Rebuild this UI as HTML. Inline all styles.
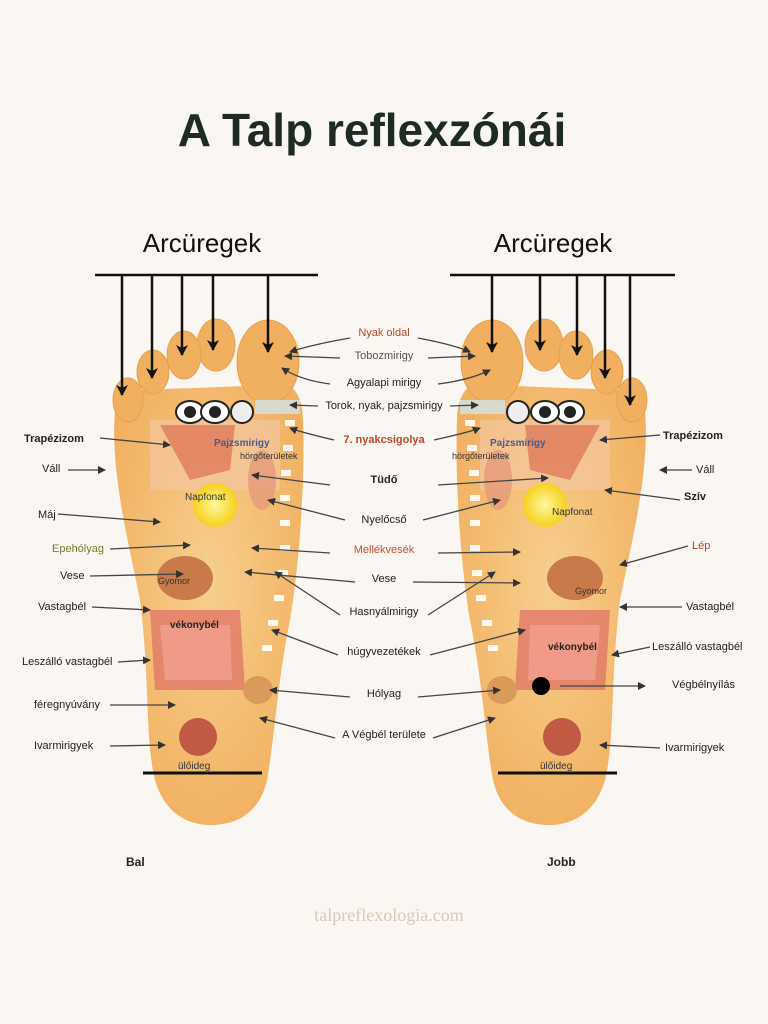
<!DOCTYPE html>
<html><head><meta charset="utf-8"><style>
html,body{margin:0;padding:0;background:#faf6f1;}
svg{display:block}
text{font-family:"Liberation Sans",sans-serif;}
</style></head><body>
<svg width="768" height="1024" viewBox="0 0 768 1024" xmlns="http://www.w3.org/2000/svg">
<defs>
<marker id="a" markerWidth="8" markerHeight="8" refX="7" refY="4" orient="auto" markerUnits="userSpaceOnUse"><path d="M0,0 L8,4 L0,8 z" fill="#333"/></marker>
<marker id="ab" markerWidth="12" markerHeight="12" refX="10" refY="6" orient="auto" markerUnits="userSpaceOnUse"><path d="M0,0 L11,6 L0,12 L3,6 z" fill="#111"/></marker>
<radialGradient id="g" cx="50%" cy="45%" r="60%"><stop offset="0" stop-color="#f7cf8e"/><stop offset="1" stop-color="#f1b060"/></radialGradient>
<radialGradient id="sun" cx="50%" cy="50%" r="50%"><stop offset="0" stop-color="#fff6a0"/><stop offset="1" stop-color="#f6d21a"/></radialGradient>
<g id="foot">
<path d="M115,410 C110,470 128,540 140,600 C150,680 145,740 155,780 C165,815 190,825 210,825 C240,825 262,810 268,775 C275,730 278,680 290,620 C300,560 305,480 303,420 C302,390 290,380 270,385 L140,390 C122,392 116,400 115,410 Z" fill="url(#g)"/>
<ellipse cx="268" cy="362" rx="31" ry="42" fill="#f1b060" stroke="#e9a04d" stroke-width="1"/>
<ellipse cx="216" cy="345" rx="19" ry="26" fill="#f1b060" stroke="#e9a04d" stroke-width="1"/>
<ellipse cx="184" cy="355" rx="17" ry="24" fill="#f1b060" stroke="#e9a04d" stroke-width="1"/>
<ellipse cx="153" cy="372" rx="16" ry="22" fill="#f1b060" stroke="#e9a04d" stroke-width="1"/>
<ellipse cx="128" cy="400" rx="15" ry="22" fill="#f1b060" stroke="#e9a04d" stroke-width="1"/>
<rect x="150" y="420" width="130" height="70" fill="#f4c6a0" opacity="0.7"/>
<path d="M160,425 L235,425 L230,470 L190,480 Z" fill="#e07b5a" opacity="0.8"/>
<ellipse cx="190" cy="412" rx="14" ry="11" fill="#fff" stroke="#222" stroke-width="2"/>
<circle cx="190" cy="412" r="6" fill="#222"/>
<ellipse cx="215" cy="412" rx="14" ry="11" fill="#fff" stroke="#222" stroke-width="2"/>
<circle cx="215" cy="412" r="6" fill="#222"/>
<circle cx="242" cy="412" r="11" fill="#eee" stroke="#222" stroke-width="2"/>
<rect x="255" y="400" width="45" height="14" fill="#cfe3ea" opacity="0.8"/>
<ellipse cx="262" cy="480" rx="14" ry="30" fill="#e59a7a" opacity="0.8"/>
<circle cx="215" cy="505" r="22" fill="url(#sun)"/>
<ellipse cx="185" cy="578" rx="28" ry="22" fill="#c97a4a"/>
<path d="M150,610 L240,610 L245,690 L155,690 Z" fill="#e27c6a" opacity="0.85"/>
<path d="M160,625 L230,625 L232,680 L165,680 Z" fill="#f09a88"/>
<ellipse cx="258" cy="690" rx="15" ry="14" fill="#d99a5a"/>
<circle cx="198" cy="737" r="19" fill="#c05a45"/>
<line x1="143" y1="773" x2="262" y2="773" stroke="#111" stroke-width="3"/>
<g fill="#fff" opacity="0.9">
<rect x="285" y="420" width="10" height="6"/><rect x="283" y="445" width="10" height="6"/><rect x="281" y="470" width="10" height="6"/><rect x="280" y="495" width="10" height="6"/><rect x="280" y="520" width="10" height="6"/><rect x="280" y="545" width="10" height="6"/><rect x="278" y="570" width="10" height="6"/><rect x="274" y="595" width="10" height="6"/><rect x="268" y="620" width="10" height="6"/><rect x="262" y="645" width="10" height="6"/>
</g>
</g>
</defs>

<text x="372" y="146" text-anchor="middle" font-size="46" font-weight="bold" fill="#1e2b24">A Talp reflexzónái</text>

<use href="#foot"/>
<use href="#foot" transform="translate(760,0) scale(-1,1)"/>
<circle cx="541" cy="686" r="9" fill="#000"/>

<text x="202" y="252" text-anchor="middle" font-size="26" fill="#111">Arcüregek</text>
<text x="553" y="252" text-anchor="middle" font-size="26" fill="#111">Arcüregek</text>
<line x1="95" y1="275" x2="318" y2="275" stroke="#111" stroke-width="2.5"/>
<line x1="450" y1="275" x2="675" y2="275" stroke="#111" stroke-width="2.5"/>
<g stroke="#111" stroke-width="2.5" marker-end="url(#ab)">
<line x1="122" y1="275" x2="122" y2="395"/><line x1="152" y1="275" x2="152" y2="378"/><line x1="182" y1="275" x2="182" y2="355"/><line x1="213" y1="275" x2="213" y2="350"/><line x1="268" y1="275" x2="268" y2="352"/>
<line x1="492" y1="275" x2="492" y2="352"/><line x1="540" y1="275" x2="540" y2="350"/><line x1="577" y1="275" x2="577" y2="355"/><line x1="605" y1="275" x2="605" y2="378"/><line x1="630" y1="275" x2="630" y2="405"/>
</g>

<g font-size="11" fill="#222" text-anchor="middle">
<text x="384" y="336" fill="#b5482a">Nyak oldal</text>
<text x="384" y="359" fill="#555">Tobozmirigy</text>
<text x="384" y="386">Agyalapi mirigy</text>
<text x="384" y="409">Torok, nyak, pajzsmirigy</text>
<text x="384" y="443" fill="#b5482a" font-weight="bold">7. nyakcsigolya</text>
<text x="384" y="483" font-weight="bold">Tüdő</text>
<text x="384" y="523">Nyelőcső</text>
<text x="384" y="553" fill="#c0532e">Mellékvesék</text>
<text x="384" y="582">Vese</text>
<text x="384" y="615">Hasnyálmirigy</text>
<text x="384" y="655">húgyvezetékek</text>
<text x="384" y="697">Hólyag</text>
<text x="384" y="738">A Végbél területe</text>
</g>
<g font-size="11" fill="#222">
<text x="24" y="442" font-weight="bold">Trapézizom</text>
<text x="42" y="472">Váll</text>
<text x="38" y="518">Máj</text>
<text x="52" y="552" fill="#7a7a2a">Epehólyag</text>
<text x="60" y="579">Vese</text>
<text x="38" y="610">Vastagbél</text>
<text x="22" y="665">Leszálló vastagbél</text>
<text x="34" y="708">féregnyúvány</text>
<text x="34" y="749">Ivarmirigyek</text>
<text x="663" y="439" font-weight="bold">Trapézizom</text>
<text x="696" y="473">Váll</text>
<text x="684" y="500" font-weight="bold">Szív</text>
<text x="692" y="549" fill="#b5482a">Lép</text>
<text x="686" y="610">Vastagbél</text>
<text x="652" y="650">Leszálló vastagbél</text>
<text x="672" y="688">Végbélnyílás</text>
<text x="665" y="751">Ivarmirigyek</text>
</g>
<g font-size="10" fill="#333">
<text x="178" y="769">ülőideg</text><text x="540" y="769">ülőideg</text>
<text x="185" y="500">Napfonat</text><text x="552" y="515">Napfonat</text>
<text x="170" y="628" font-weight="bold" fill="#222">vékonybél</text><text x="548" y="650" font-weight="bold" fill="#222">vékonybél</text>
<text x="158" y="584" font-size="9">Gyomor</text><text x="575" y="594" font-size="9">Gyomor</text>
<text x="214" y="446" font-weight="bold" fill="#4a5a8a">Pajzsmirigy</text><text x="490" y="446" font-weight="bold" fill="#4a5a8a">Pajzsmirigy</text>
<text x="240" y="459" font-size="9">hörgőterületek</text><text x="452" y="459" font-size="9">hörgőterületek</text>
</g>
<g stroke="#444" stroke-width="1.3" fill="none" marker-end="url(#a)">
<path d="M350,338 Q310,345 290,352"/><path d="M418,338 Q455,345 470,352"/>
<path d="M340,358 L285,356"/><path d="M428,358 L475,356"/>
<path d="M330,384 Q300,380 282,368"/><path d="M438,384 Q470,380 490,370"/>
<path d="M318,406 L290,405"/><path d="M450,406 L478,405"/>
<path d="M334,440 Q300,432 290,428"/><path d="M434,440 Q470,432 480,428"/>
<path d="M330,485 L252,475"/><path d="M438,485 L548,478"/>
<path d="M345,520 L268,500"/><path d="M423,520 L500,500"/>
<path d="M330,553 L252,548"/><path d="M438,553 L520,552"/>
<path d="M355,582 L245,572"/><path d="M413,582 L520,583"/>
<path d="M340,615 L275,572"/><path d="M428,615 L495,572"/>
<path d="M338,655 L272,630"/><path d="M430,655 L525,630"/>
<path d="M350,697 L270,690"/><path d="M418,697 L500,690"/>
<path d="M335,738 L260,718"/><path d="M433,738 L495,718"/>
<path d="M100,438 L170,445"/><path d="M660,435 L600,440"/>
<path d="M68,470 L105,470"/><path d="M692,470 L660,470"/>
<path d="M58,514 L160,522"/><path d="M680,500 L605,490"/>
<path d="M110,549 L190,545"/><path d="M688,546 L620,565"/>
<path d="M90,576 L183,574"/><path d="M560,686 L645,686"/>
<path d="M92,607 L150,610"/><path d="M682,607 L620,607"/>
<path d="M118,662 L150,660"/><path d="M650,647 L612,655"/>
<path d="M110,705 L175,705"/><path d="M110,746 L165,745"/><path d="M660,748 L600,745"/>
</g>
<text x="126" y="866" font-size="12" font-weight="bold" fill="#222">Bal</text>
<text x="547" y="866" font-size="12" font-weight="bold" fill="#222">Jobb</text>
<text x="389" y="921" text-anchor="middle" font-size="18" fill="#d8c9b8" style="font-family:'Liberation Serif',serif">talpreflexologia.com</text>
</svg>
</body></html>
